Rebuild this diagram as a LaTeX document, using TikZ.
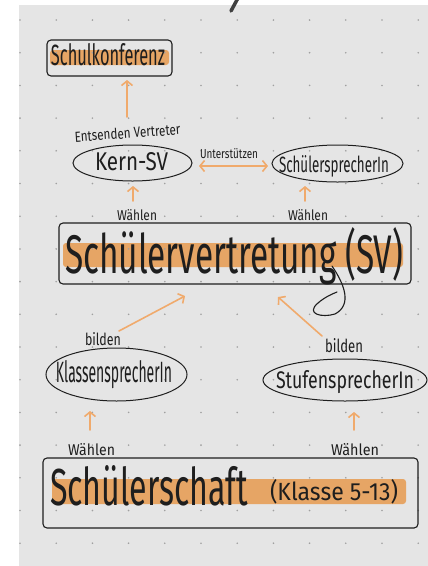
\documentclass[tikz,border=0pt]{standalone}
\usepackage{fontspec}
\setmainfont{Fira Sans}
\usetikzlibrary{arrows.meta,shapes.geometric}
\definecolor{bg}{HTML}{E5E5E5}
\definecolor{hl}{HTML}{E6A565}
\definecolor{arr}{HTML}{F0AA6C}
\definecolor{ink}{HTML}{1E1E1E}
\definecolor{dotc}{HTML}{A0A0A0}
\newcommand{\hwtext}[3]{\resizebox{#1pt}{#2pt}{#3}}
\begin{document}
\begin{tikzpicture}[x=1pt,y=-1pt,
  lbl/.style={inner sep=0pt, outer sep=0pt, anchor=base west, text=ink},
  boxframe/.style={draw=ink, line width=1.1pt, rounded corners=4pt, inner sep=0pt},
  hlbar/.style={fill=hl, rounded corners=3pt},
  oval/.style={ellipse, draw=ink, line width=1pt, inner sep=0pt},
  conn/.style={draw=arr, line width=1.6pt, line cap=round, -{Straight Barb[length=4.5pt,width=11pt]}},
  conn2/.style={draw=arr, line width=1.6pt, line cap=round, {Straight Barb[length=4.5pt,width=11pt]}-{Straight Barb[length=4.5pt,width=11pt]}}]
\useasboundingbox (0,0) rectangle (428,566);
\fill[white] (0,0) rectangle (428,566);
\fill[bg] (19,5) rectangle (428,566);

% highlights
\fill[hlbar] (50,50) rectangle (169,65);
\fill[hlbar] (63,243) rectangle (403,267);
\fill[hlbar] (52,479) rectangle (406,504);

% dot grid
\foreach \i in {0,...,11} {
  \foreach \j in {0,...,16} {
    \fill[dotc] ({20+36.2*\i},{20+32.7*\j}) circle (0.9pt);
  }
}

% pen stroke at top
\draw[ink!85, line width=3.5pt, line cap=round] (238,-2) -- (231,11);

% boxes
\node[boxframe, minimum width=125pt, minimum height=36pt] (skbox) at (109.5,58) {};
\node[boxframe, minimum width=352pt, minimum height=61pt] (svbox) at (235,253.5) {};
\node[boxframe, minimum width=375pt, minimum height=70pt] (ssbox) at (230.5,493) {};

% ellipses
\node[oval, minimum width=119pt, minimum height=36pt] (kernE) at (132.5,163) {};
\node[oval, minimum width=131pt, minimum height=37pt] (sprE) at (337.5,163.5) {};
\node[oval, minimum width=141pt, minimum height=53pt] (klE) at (116.5,374.5) {};
\node[oval, minimum width=164pt, minimum height=42pt] (stE) at (345,380) {};

% texts
\node[lbl] (tSK) at (51,65) {\hwtext{114}{22}{Schulkonferenz}};
\node[lbl, rotate=4] (tEV) at (75,142) {\hwtext{106}{11}{Entsenden Vertreter}};
\node[lbl] (tKern) at (95,170) {\hwtext{73}{18}{Kern-SV}};
\node[lbl] (tUnt) at (200,158) {\hwtext{58}{10}{Unterstützen}};
\node[lbl] (tSpr) at (279,172) {\hwtext{110}{17}{SchülersprecherIn}};
\node[lbl] (tW1) at (117,220) {\hwtext{40}{11}{Wählen}};
\node[lbl] (tW2) at (288,220) {\hwtext{40}{11}{Wählen}};
\node[lbl] (tSV) at (65,273) {\hwtext{338}{46}{Schülervertretung (SV)}};
\node[lbl] (tB1) at (85,345) {\hwtext{36}{13}{bilden}};
\node[lbl] (tB2) at (325,352) {\hwtext{38}{14}{bilden}};
\node[lbl] (tKl) at (56,382) {\hwtext{116}{22}{KlassensprecherIn}};
\node[lbl] (tSt) at (276,388) {\hwtext{138}{18}{StufensprecherIn}};
\node[lbl] (tW3) at (68,455) {\hwtext{47}{12}{Wählen}};
\node[lbl] (tW4) at (331,455) {\hwtext{48}{12}{Wählen}};
\node[lbl] (tSS) at (50,505) {\hwtext{198}{40}{Schülerschaft}};
\node[lbl] (tKlasse) at (270,500) {\hwtext{128}{21}{(Klasse 5-13)}};

% pen loop of the g
\draw[ink, line width=1.1pt, line cap=round] (332,266) .. controls (345,285) and (352,305) .. (335,314) .. controls (322,318) and (305,314) .. (318,303) .. controls (325,297) and (332,294) .. (337,292);

% connector end points
\coordinate (a1s) at (127,117); \coordinate (a1e) at (127,80);
\coordinate (a2s) at (199,166); \coordinate (a2e) at (268,166);
\coordinate (a3s) at (133,201); \coordinate (a3e) at (133,186);
\coordinate (a4s) at (305,201); \coordinate (a4e) at (305,186);
\coordinate (a5s) at (119,331); \coordinate (a5e) at (185,296);
\coordinate (a6s) at (322,336); \coordinate (a6e) at (278,297);
\coordinate (a7s) at (90,430); \coordinate (a7e) at (90,411);
\coordinate (a8s) at (354,430); \coordinate (a8e) at (354,412);

\draw[conn] (a1s) -- (a1e);
\draw[conn2] (a2s) -- (a2e);
\draw[conn] (a3s) -- (a3e);
\draw[conn] (a4s) -- (a4e);
\draw[conn] (a5s) -- (a5e);
\draw[conn] (a6s) -- (a6e);
\draw[conn] (a7s) -- (a7e);
\draw[conn] (a8s) -- (a8e);
\end{tikzpicture}
\end{document}
